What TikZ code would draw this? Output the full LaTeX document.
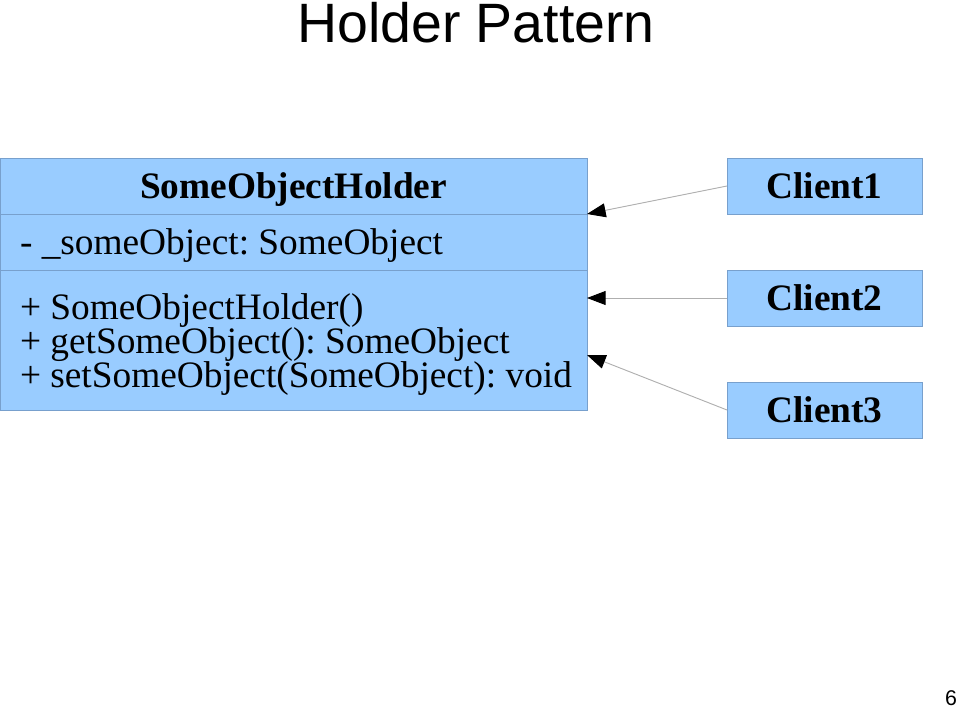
\documentclass[tikz,border=0pt]{standalone}
\usepackage{fontspec}
\setmainfont{Liberation Serif}
\newfontfamily\slidesans{Liberation Sans}
\usetikzlibrary{positioning,arrows.meta}
\definecolor{umlfill}{RGB}{153,204,255}
\definecolor{umlline}{RGB}{120,160,205}
\definecolor{linkgray}{RGB}{175,175,175}

\begin{document}
\frenchspacing
\begin{tikzpicture}[
  x=0.75pt, y=-0.75pt,
  every node/.style={inner sep=0pt, outer sep=0pt},
  umlpart/.style={draw=umlline, fill=umlfill, line width=0.6pt, minimum width=440.25pt},
  memtext/.style={font=\fontsize{28}{25.5}\selectfont},
  client/.style={draw=umlline, fill=umlfill, line width=0.6pt,
    minimum width=146.25pt, minimum height=42pt,
    font=\fontsize{28}{32}\selectfont\bfseries},
  uses/.style={draw=linkgray, line width=0.7pt,
    -{Triangle[length=14pt,width=10.5pt,color=black]}}
]
  \useasboundingbox (0,0) rectangle (960,709);

  \node[font=\slidesans\fontsize{41.6}{48}\selectfont] (title) at (476,23) {Holder Pattern};

  % the class box
  \node[umlpart, minimum height=42pt, anchor=north west, text height=19.5pt, text depth=0pt,
    font=\fontsize{28}{32}\selectfont\bfseries] (hname) at (0,158) {SomeObjectHolder};
  \node[umlpart, minimum height=42pt, below=0pt of hname] (hattr) {};
  \node[umlpart, minimum height=105pt, below=0pt of hattr] (hops) {};
  \node[memtext, text height=19.5pt, text depth=0pt, anchor=west] (attr)
    at ([xshift=15pt]hattr.west) {- \_someObject: SomeObject};
  \node[memtext, align=left, anchor=west] (ops) at ([xshift=15pt,yshift=-3.4pt]hops.west)
    {+ SomeObjectHolder()\\
     + getSomeObject(): SomeObject\\
     + setSomeObject(SomeObject): void};
  \coordinate (hin) at (587,355);

  % the clients
  \node[client] (c1) at (824.5,186) {Client1};
  \node[client, below=42pt of c1] (c2) {Client2};
  \node[client, below=42pt of c2] (c3) {Client3};

  \draw[uses] (c1.west) -- (hname.south east);
  \draw[uses] (c2.west) -- (c2.west -| hops.east);
  \draw[uses] (c3.west) -- (hin);

  \node[font=\slidesans\fontsize{16}{19}\selectfont] (page) at (951,698) {6};
\end{tikzpicture}
\end{document}
